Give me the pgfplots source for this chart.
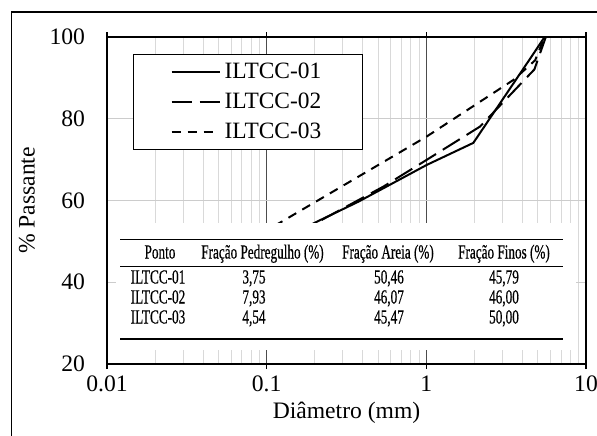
\documentclass[border=0pt]{standalone}
\usepackage{fontspec}
\setmainfont{Liberation Serif}
\newfontfamily\cond[FakeStretch=0.66,FakeBold=0.5]{Liberation Serif}
\usepackage{pgfplots}
\pgfplotsset{compat=1.18}
\begin{document}
\begin{tikzpicture}[x=0.5pt,y=0.5pt]
\useasboundingbox (0,0) rectangle (597,435);
\draw[line width=0.8pt] (11.5,-20) -- (11.5,423) -- (620,423);
\begin{axis}[
  at={(53.5pt,35.5pt)}, anchor=south west,
  scale only axis, width=239.5pt, height=163.5pt,
  xmode=log, xmin=0.01, xmax=10, ymin=20, ymax=100,
  xtick={0.01,0.1,1,10}, xticklabels={0.01,0.1,1,10},
  ytick={20,40,60,80,100},
  /pgf/number format/assume math mode=true,
  ticklabel style={font=\fontsize{11.8}{13}\selectfont},
  label style={font=\fontsize{11.8}{13}\selectfont},
  xlabel={Diâmetro (mm)}, ylabel={\% Passante},
  xlabel style={at={(axis description cs:0.5,-0.15)}, anchor=center},
  ylabel style={at={(axis description cs:-0.167,0.5)}, anchor=center},
  tick align=outside, major tick length=2.5pt,
  ytick style={draw=none}, minor tick style={draw=none},
  xtick style={black, line width=0.8pt},
  yticklabel style={xshift=-5pt},
  xmajorgrids, xminorgrids, ymajorgrids,
  major x grid style={black!70, line width=0.6pt},
  minor x grid style={black!15, line width=0.5pt},
  major y grid style={black!20, line width=0.5pt},
  axis line style={line width=0.9pt},
  legend style={at={(0.0543,0.948)}, anchor=north west, draw=black, line width=0.6pt,
    inner xsep=18.5pt, inner ysep=2pt, font=\fontsize{11.7}{13}\selectfont, row sep=1.8pt},
  legend cell align=left,
  legend image code/.code={\draw[#1] (0pt,0pt) -- (24pt,0pt);},
]
\addplot[black, line width=1pt] coordinates {
  (0.075,45.79) (0.201,54.6) (0.375,59.7) (1.005,68.7) (1.97,74.1) (4.75,96.25) (5.5,100)};
\addlegendentry{ILTCC-01}
\addplot[black, line width=1pt, dash pattern=on 10pt off 4pt] coordinates {
  (0.075,46.00) (0.206,54.6) (0.538,63.4) (1.0,69.9) (2.17,78.1) (4.75,92.07) (5.6,100)};
\addlegendentry{ILTCC-02}
\addplot[black, line width=1pt, dash pattern=on 4.5pt off 3.5pt] coordinates {
  (0.075,50.00) (0.124,54.8) (1.0,75.6) (3.51,89.5) (4.8,94.3) (5.5,100)};
\addlegendentry{ILTCC-03}
\end{axis}
% table overlay
\fill[white] (116,85) rectangle (576,212);
\draw[line width=0.75pt] (120,195.7) -- (563,195.7);
\draw[line width=0.4pt] (120,168.3) -- (563,168.3);
\draw[line width=0.75pt] (120,96) -- (563,96);
\begin{scope}[every node/.style={font=\cond\fontsize{10}{11}\selectfont, inner sep=0pt, anchor=base}]
\node at (160,176.5) {Ponto};
\node at (262.5,176.5) {Fração Pedregulho (\%)};
\node at (388,176.5) {Fração Areia (\%)};
\node at (504,176.5) {Fração Finos (\%)};
\node at (158,151.5) {ILTCC-01};
\node at (254,151.5) {3,75};
\node at (389,151.5) {50,46};
\node at (504,151.5) {45,79};
\node at (158,131.5) {ILTCC-02};
\node at (254,131.5) {7,93};
\node at (389,131.5) {46,07};
\node at (504,131.5) {46,00};
\node at (158,111.5) {ILTCC-03};
\node at (254,111.5) {4,54};
\node at (389,111.5) {45,47};
\node at (504,111.5) {50,00};
\end{scope}
\end{tikzpicture}
\end{document}
